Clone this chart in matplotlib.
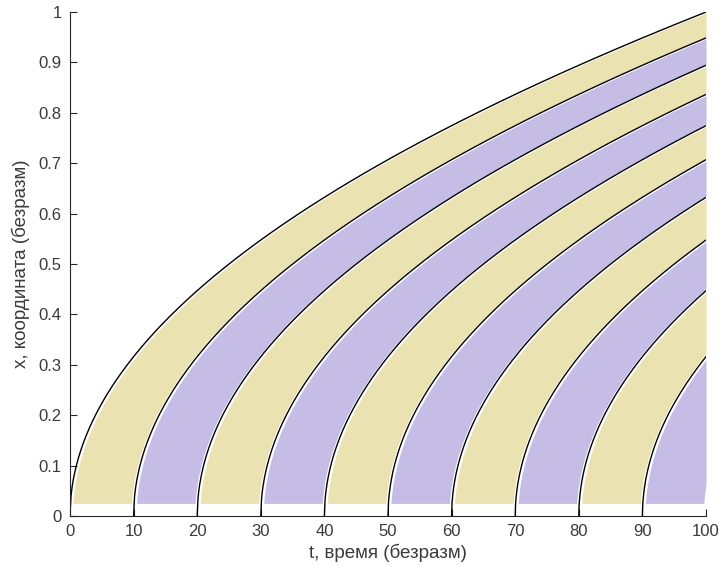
import numpy as np
import matplotlib
matplotlib.use('Agg')
import matplotlib.pyplot as plt

# start times of the characteristic curves x = sqrt((t - t0) / T)
t_start = [0, 10, 20, 30, 40, 50, 60, 70, 80, 90]
t_end = 100
band_colors = ['#ebe2b1', '#c5bde5']  # alternating fill: yellow, purple
x_floor = 0.025
x_ticks = [0, 10, 20, 30, 40, 50, 60, 70, 80, 90, 100]
y_ticks = [0, 0.1, 0.2, 0.3, 0.4, 0.5, 0.6, 0.7, 0.8, 0.9, 1]

plt.rcParams['font.family'] = ['Liberation Sans', 'DejaVu Sans']

fig = plt.figure(figsize=(7.2, 5.74), dpi=100)
ax = fig.add_axes([0.0972, 0.101, 0.8834, 0.878])

# bands between neighbouring curves, drawn along x so the edges follow the curves
gap = 0.4
xs = np.linspace(x_floor, 1, 800)
for i, t0 in enumerate(t_start):
    left = t0 + t_end * xs ** 2 + gap
    right = np.minimum(t0 + 10 + t_end * xs ** 2 - gap, t_end)
    ax.fill_betweenx(xs, left, right, where=left < right,
                     color=band_colors[i % 2], linewidth=0)

# the curves themselves
for t0 in t_start:
    t = np.linspace(t0, t_end, 600)
    ax.plot(t, np.sqrt((t - t0) / t_end), color='k', linewidth=1.0)

ax.set_xlim(0, 100)
ax.set_ylim(0, 1)
ax.set_xticks(x_ticks)
ax.set_yticks(y_ticks)
ax.set_yticklabels(['0', '0.1', '0.2', '0.3', '0.4', '0.5', '0.6', '0.7',
                    '0.8', '0.9', '1'])
ax.spines['top'].set_visible(False)
ax.spines['right'].set_visible(False)
for s in ['left', 'bottom']:
    ax.spines[s].set_color('#262626')
    ax.spines[s].set_linewidth(0.8)
ax.tick_params(direction='in', length=5, width=0.8, colors='#262626',
               labelcolor='#3a3a3a', labelsize=12, pad=6)
ax.set_xlabel('t, время (безразм)', fontsize=13.5, color='#3a3a3a',
              labelpad=3)
ax.set_ylabel('x, координата (безразм)', fontsize=13.5, color='#3a3a3a',
              labelpad=6)

fig.savefig('out.png', dpi=100)
